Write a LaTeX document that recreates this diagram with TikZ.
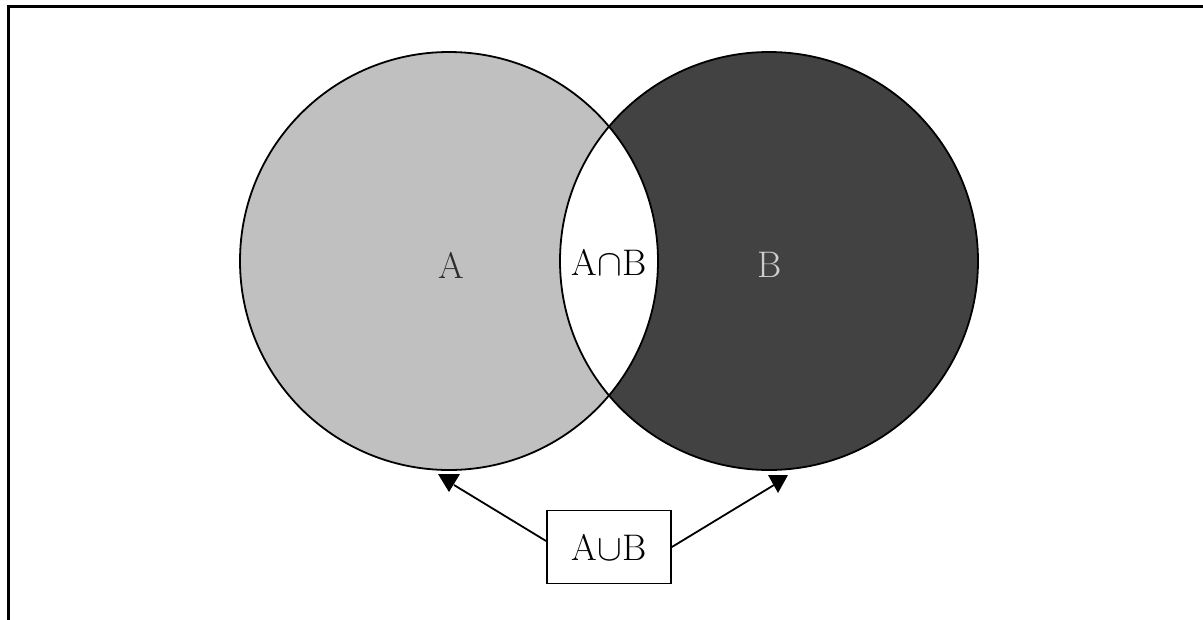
\RequirePackage{fix-cm}
\documentclass[tikz,border=0pt]{standalone}
\usetikzlibrary{calc}
\definecolor{setA}{RGB}{192,192,192}
\definecolor{setB}{RGB}{66,66,66}
\definecolor{labA}{RGB}{45,45,45}
\definecolor{labB}{RGB}{205,205,205}
\tikzset{
  venn/.style={draw=black, line width=1.8pt},
  bigtext/.style={font=\fontsize{37}{44}\selectfont},
  lbl/.style={bigtext, inner sep=0pt},
  unionbox/.style={bigtext, draw=black, line width=1.8pt, minimum width=124pt, minimum height=73pt, inner sep=0pt, fill=white},
  link/.style={draw=black, line width=1.8pt},
  tip/.style={fill=black}
}
\begin{document}
\begin{tikzpicture}[x=1pt,y=-1pt]
  \useasboundingbox (0,0) rectangle (1203,619);
  % open frame: top and left edges only
  \draw[line width=3pt, line cap=rect] (8,6) -- (1210,6);
  \draw[line width=3pt] (8,6) -- (8,625);

  % the two sets
  \coordinate (cA) at (449,261);
  \coordinate (cB) at (769,261);
  \fill[setA] (cA) circle (209);
  \fill[setB] (cB) circle (209);
  % white intersection
  \begin{scope}
    \clip (cA) circle (209);
    \fill[white] (cB) circle (209);
  \end{scope}
  \draw[venn] (cA) circle (209);
  \draw[venn] (cB) circle (209);

  % labels
  \node[lbl, text=labA] (la) at (451,265) {A};
  \node[lbl, text=labB] (lb) at (770,265) {B};
  \node[lbl, text=black] (lab) at (609,262) {A$\cap$B};

  % union box and its connectors
  \node[unionbox] (ub) at (609,547) {A$\cup$B};
  \coordinate (aL) at (449,483);
  \coordinate (aR) at (778,484);
  \draw[link] ([yshift=6pt]ub.west) -- ($(aL)+(5,2)$);
  \draw[link] (ub.east) -- ($(aR)+(-4,1)$);
  \fill[tip] ($(aL)+(-11,-9)$) -- ($(aL)+(11,-9)$) -- ($(aL)+(0,9)$) -- cycle;
  \fill[tip] ($(aR)+(-10,-9)$) -- ($(aR)+(10,-9)$) -- ($(aR)+(0,9)$) -- cycle;
\end{tikzpicture}
\end{document}
